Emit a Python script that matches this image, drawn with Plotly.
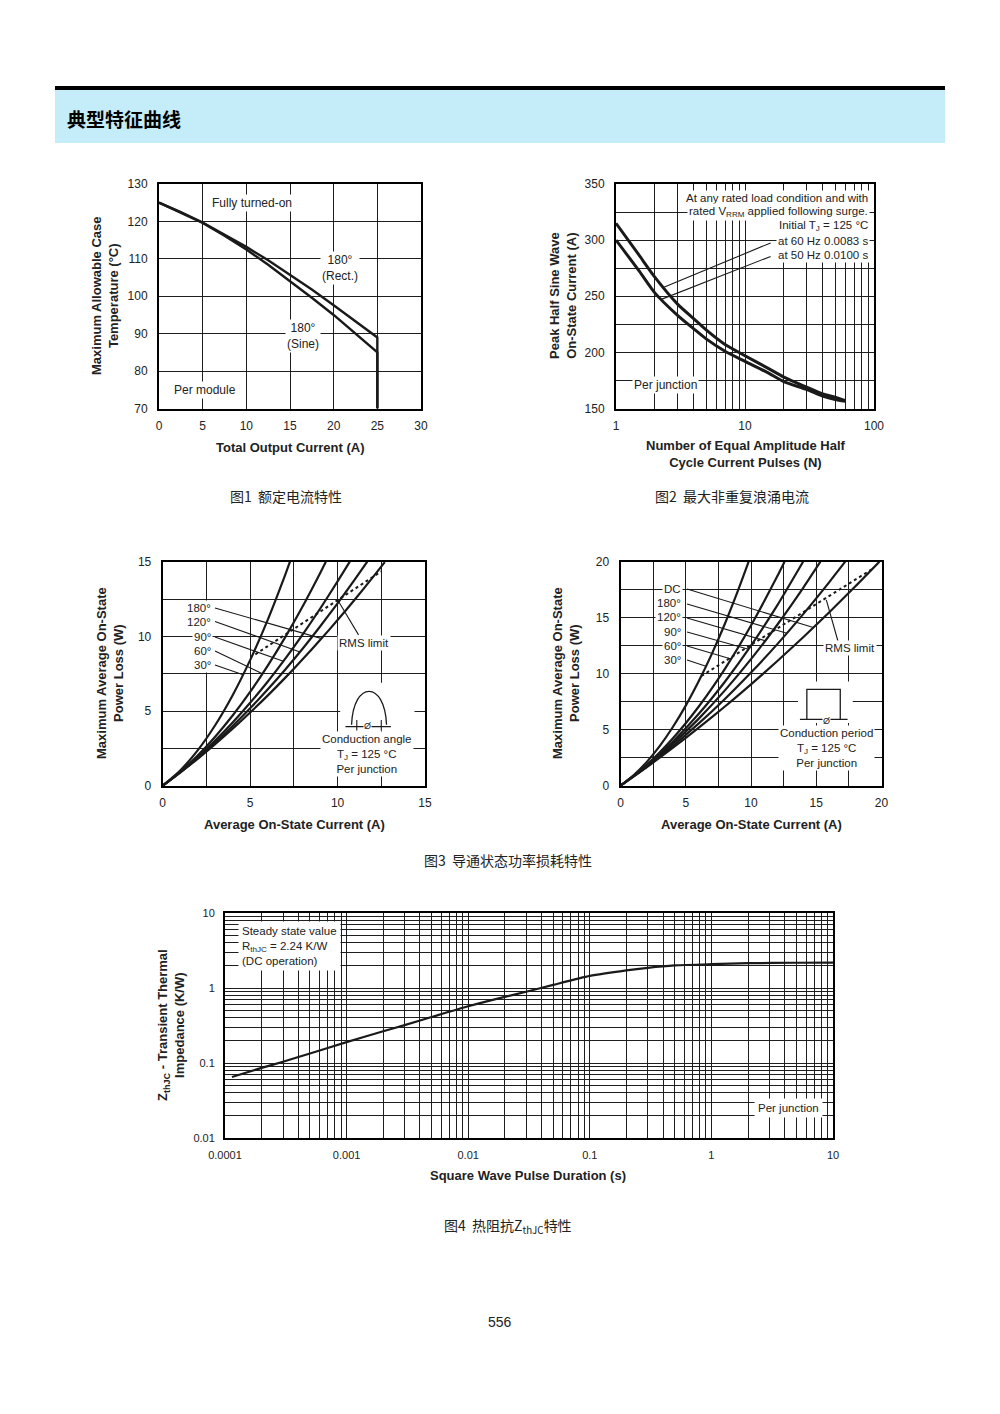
import plotly.graph_objects as go

PAGE_OFFSET = 8          # default body margin of the page in the browser
W, H = 1000 - PAGE_OFFSET, 1414 - PAGE_OFFSET
FONT = "Liberation Sans, Arial, sans-serif"
CJK = "Noto Sans CJK SC, sans-serif"
INK = "#1a1a1a"
GRID = "#1e1e1e"

# ---------------- data ----------------
# Fig 1 : max allowable case temperature vs total output current
fig1_current = [0, 2.5, 5, 7.5, 10, 12.5, 15, 17.5, 20, 22.5, 25, 25]
fig1_temp_rect = [125, 122.5, 119.7, 116.5, 113.2, 109.6, 105.8, 101.8, 97.6, 93.4, 89.0, 70]
fig1_temp_sine = [125, 122.4, 119.6, 116.2, 112.5, 108.4, 104.1, 99.6, 95.0, 90.1, 85.0, 70]
fig1_xticks = [0, 5, 10, 15, 20, 25, 30]
fig1_yticks = [70, 80, 90, 100, 110, 120, 130]

# Fig 2 : surge current vs number of pulses
fig2_pulses = [1, 1.5, 2, 3, 4, 5, 7, 10, 15, 20, 30, 40, 50, 60]
fig2_60hz = [315, 287, 267, 243, 230, 220, 207, 197, 186, 178, 169, 163, 160, 157]
fig2_50hz = [300, 273, 253, 233, 221, 212, 201, 192, 182, 174, 167, 161, 158, 156.5]
fig2_leader60_x = [2.35, 15.8]
fig2_leader60_y = [258, 297.5]
fig2_leader50_x = [2.22, 15.8]
fig2_leader50_y = [247, 285.5]
fig2_xgrid = [1, 2, 3, 4, 5, 6, 7, 8, 9, 10, 20, 30, 40, 50, 60, 70, 80, 90, 100]
fig2_xlabels = [1, 10, 100]
fig2_ygrid = [150, 175, 200, 225, 250, 275, 300, 325, 350]
fig2_ylabels = [150, 200, 250, 300, 350]

# Fig 3 : power loss, sine conduction angle
fig3_angles = ["180°", "120°", "90°", "60°", "30°"]
fig3_i_180 = [0, 1, 2, 3, 4, 5, 6, 7, 8, 9, 10, 11, 12, 12.7]
fig3_p_180 = [0, 0.88, 1.80, 2.78, 3.81, 4.90, 6.03, 7.22, 8.46, 9.75, 11.09, 12.48, 13.93, 14.97]
fig3_i_120 = [0, 1, 2, 3, 4, 5, 6, 7, 8, 9, 10, 11, 11.7]
fig3_p_120 = [0, 0.89, 1.85, 2.88, 3.99, 5.18, 6.44, 7.77, 9.17, 10.66, 12.21, 13.84, 15.0]
fig3_i_90 = [0, 1, 2, 3, 4, 5, 6, 7, 8, 9, 10, 10.7]
fig3_p_90 = [0, 0.90, 1.91, 3.02, 4.23, 5.55, 6.96, 8.49, 10.12, 11.85, 13.68, 15.0]
fig3_i_60 = [0, 1, 2, 3, 4, 5, 6, 7, 8, 9, 9.33]
fig3_p_60 = [0, 0.93, 2.02, 3.28, 4.70, 6.28, 8.02, 9.93, 12.00, 14.23, 15.0]
fig3_i_30 = [0, 1, 2, 3, 4, 5, 6, 7, 7.28]
fig3_p_30 = [0, 1.02, 2.37, 4.05, 6.06, 8.41, 11.09, 14.10, 15.0]
fig3_rms_i = [5.3, 7.0, 8.6, 10.1, 12.5]
fig3_rms_p = [8.8, 10.1, 11.35, 12.5, 14.35]
fig3_leader_x0 = [2.99, 2.99, 2.99, 2.99, 2.99]
fig3_leader_y0 = [11.9, 11.0, 9.96, 9.02, 8.08]
fig3_leader_x1 = [9.1, 7.85, 6.9, 5.7, 4.6]
fig3_leader_y1 = [9.85, 8.96, 8.33, 7.5, 7.43]
fig3_rms_leader_x = [11.2, 10.0]
fig3_rms_leader_y = [10.1, 12.45]
fig3_grid = [0, 2.5, 5, 7.5, 10, 12.5, 15]
fig3_labels = [0, 5, 10, 15]

# Fig 4 : power loss, rectangular conduction period
fig4_angles = ["DC", "180°", "120°", "90°", "60°", "30°"]
fig4_i_dc = [0, 2, 4, 6, 8, 10, 12, 14, 16, 18, 19.84]
fig4_p_dc = [0, 1.64, 3.37, 5.18, 7.07, 9.05, 11.11, 13.26, 15.49, 17.80, 20.0]
fig4_i_180 = [0, 2, 4, 6, 8, 10, 12, 14, 16, 17.22]
fig4_p_180 = [0, 1.68, 3.54, 5.56, 7.74, 10.1, 12.62, 15.32, 18.18, 20.0]
fig4_i_120 = [0, 2, 4, 6, 8, 10, 12, 14, 15.32]
fig4_p_120 = [0, 1.73, 3.73, 5.99, 8.51, 11.3, 14.35, 17.67, 20.0]
fig4_i_90 = [0, 2, 4, 6, 8, 10, 12, 13.99]
fig4_p_90 = [0, 1.78, 3.92, 6.42, 9.28, 12.5, 16.08, 20.0]
fig4_i_60 = [0, 2, 4, 6, 8, 10, 12, 12.57]
fig4_p_60 = [0, 1.85, 4.21, 7.07, 10.43, 14.3, 18.67, 20.0]
fig4_i_30 = [0, 1, 2, 3, 4, 5, 6, 7, 8, 9, 9.82]
fig4_p_30 = [0, 0.93, 2.10, 3.53, 5.22, 7.15, 9.34, 11.77, 14.46, 17.41, 20.0]
fig4_rms_i = [6.2, 8.6, 10.1, 11.6, 14.25, 19.3]
fig4_rms_p = [9.8, 11.56, 12.62, 13.75, 15.67, 19.35]
fig4_leader_x0 = [5.1, 5.1, 5.1, 5.1, 5.1, 5.1]
fig4_leader_y0 = [17.56, 16.22, 14.97, 13.72, 12.47, 11.22]
fig4_leader_x1 = [14.78, 12.75, 11.09, 9.81, 8.48, 6.55]
fig4_leader_y1 = [14.12, 13.61, 12.94, 12.19, 11.32, 10.66]
fig4_rms_leader_x = [16.66, 15.77]
fig4_rms_leader_y = [12.92, 16.6]
fig4_grid = [0, 2.5, 5, 7.5, 10, 12.5, 15, 17.5, 20]
fig4_labels = [0, 5, 10, 15, 20]

# Fig 5 : transient thermal impedance
fig5_time = [1.14e-4, 2e-4, 3e-4, 5e-4, 1e-3, 2e-3, 3e-3, 5e-3, 1e-2, 2e-2, 3e-2, 5e-2,
             0.1, 0.2, 0.3, 0.5, 1, 2, 5, 10]
fig5_zth = [0.065, 0.086, 0.104, 0.134, 0.19, 0.265, 0.32, 0.41, 0.57, 0.76, 0.89, 1.1,
            1.45, 1.72, 1.86, 2.0, 2.08, 2.14, 2.17, 2.18]
fig5_xdecades = [1e-4, 1e-3, 1e-2, 1e-1, 1, 10]
fig5_xlabels = ["0.0001", "0.001", "0.01", "0.1", "1", "10"]
fig5_ydecades = [0.01, 0.1, 1, 10]
fig5_ylabels = ["0.01", "0.1", "1", "10"]


# ---------------- helpers ----------------
def px(x):
    return (x - PAGE_OFFSET) / W


def py(y):
    return 1 - (y - PAGE_OFFSET) / H


def fmt(v):
    return f"{v:g}"


def log_grid(decades):
    vals = []
    for d in decades[:-1]:
        for m in range(1, 10):
            vals.append(round(d * m, 12))
    vals.append(decades[-1])
    return vals


fig = go.Figure()


def add_curve(x, y, n, width=2.6, dash=None, shape="spline", color=INK):
    fig.add_trace(go.Scatter(
        x=x, y=y, mode="lines",
        xaxis="x" if n == 1 else f"x{n}", yaxis="y" if n == 1 else f"y{n}",
        line=dict(color=color, width=width, dash=dash, shape=shape, smoothing=0.6),
        hoverinfo="skip", showlegend=False))


def axis(domain, rng, vals, text, anchor, log=False, size=12, standoff=5):
    d = dict(domain=domain, range=rng, tickmode="array", tickvals=vals, ticktext=text,
             showgrid=True, gridcolor=GRID, gridwidth=1.3, zeroline=False,
             showline=True, mirror=True, linecolor="black", linewidth=2,
             ticks="", ticklabelstandoff=standoff, anchor=anchor, fixedrange=True,
             automargin=False,
             tickfont=dict(family=FONT, size=size, color="#222"))
    if log:
        d["type"] = "log"
    return d


def note(text, x, y, size=12, xanchor="center", yanchor="middle", bg="white", align="center",
         family=FONT, angle=0, color="#222", pad=1):
    fig.add_annotation(text=text, x=px(x), y=py(y), xref="paper", yref="paper", showarrow=False,
                       xanchor=xanchor, yanchor=yanchor, align=align, textangle=angle,
                       bgcolor=bg, borderpad=pad,
                       font=dict(family=family, size=size, color=color))


# ---------------- Fig 1 ----------------
add_curve(fig1_current, fig1_temp_rect, 1, width=2.4, shape="linear")
add_curve(fig1_current, fig1_temp_sine, 1, width=2.4, shape="linear")

# ---------------- Fig 2 ----------------
add_curve(fig2_pulses, fig2_60hz, 2, width=3)
add_curve(fig2_pulses, fig2_50hz, 2, width=3)
add_curve(fig2_leader60_x, fig2_leader60_y, 2, width=1.1, shape="linear")
add_curve(fig2_leader50_x, fig2_leader50_y, 2, width=1.1, shape="linear")

# ---------------- Fig 3 ----------------
for xs, ys in [(fig3_i_180, fig3_p_180), (fig3_i_120, fig3_p_120), (fig3_i_90, fig3_p_90),
               (fig3_i_60, fig3_p_60), (fig3_i_30, fig3_p_30)]:
    add_curve(xs, ys, 3, width=2.2)
add_curve(fig3_rms_i, fig3_rms_p, 3, width=2, dash="dot", shape="linear")
for k in range(len(fig3_angles)):
    add_curve([fig3_leader_x0[k], fig3_leader_x1[k]], [fig3_leader_y0[k], fig3_leader_y1[k]],
              3, width=1.1, shape="linear")
add_curve(fig3_rms_leader_x, fig3_rms_leader_y, 3, width=1.1, shape="linear")

# ---------------- Fig 4 ----------------
for xs, ys in [(fig4_i_dc, fig4_p_dc), (fig4_i_180, fig4_p_180), (fig4_i_120, fig4_p_120),
               (fig4_i_90, fig4_p_90), (fig4_i_60, fig4_p_60), (fig4_i_30, fig4_p_30)]:
    add_curve(xs, ys, 4, width=2.2)
add_curve(fig4_rms_i, fig4_rms_p, 4, width=2, dash="dot", shape="linear")
for k in range(len(fig4_angles)):
    add_curve([fig4_leader_x0[k], fig4_leader_x1[k]], [fig4_leader_y0[k], fig4_leader_y1[k]],
              4, width=1.1, shape="linear")
add_curve(fig4_rms_leader_x, fig4_rms_leader_y, 4, width=1.1, shape="linear")

# ---------------- Fig 5 ----------------
add_curve(fig5_time, fig5_zth, 5, width=2.2)

# ---------------- axes ----------------
f2x = fig2_xgrid
f2xt = [fmt(v) if v in fig2_xlabels else "" for v in f2x]
f2yt = [fmt(v) if v in fig2_ylabels else "" for v in fig2_ygrid]
f3t = [fmt(v) if v in fig3_labels else "" for v in fig3_grid]
f4t = [fmt(v) if v in fig4_labels else "" for v in fig4_grid]
f5x = log_grid(fig5_xdecades)
f5xt = [fig5_xlabels[fig5_xdecades.index(v)] if v in fig5_xdecades else "" for v in f5x]
f5y = log_grid(fig5_ydecades)
f5yt = [fig5_ylabels[fig5_ydecades.index(v)] if v in fig5_ydecades else "" for v in f5y]

fig.update_layout(
    width=W, height=H, autosize=False,
    margin=dict(l=0, r=0, t=0, b=0, pad=0, autoexpand=False),
    paper_bgcolor="white", plot_bgcolor="white",
    showlegend=False, hovermode=False,
    xaxis=axis([px(159), px(421)], [0, 30], fig1_xticks, [fmt(v) for v in fig1_xticks], "y"),
    yaxis=axis([py(408.5), py(184)], [70, 130], fig1_yticks, [fmt(v) for v in fig1_yticks], "x", standoff=7),
    xaxis2=axis([px(616), px(874)], [0, 2], f2x, f2xt, "y2", log=True),
    yaxis2=axis([py(408.5), py(184)], [150, 350], fig2_ygrid, f2yt, "x2", standoff=7),
    xaxis3=axis([px(162.7), px(425)], [0, 15], fig3_grid, f3t, "y3"),
    yaxis3=axis([py(785.7), py(561.7)], [0, 15], fig3_grid, f3t, "x3", standoff=7),
    xaxis4=axis([px(620.5), px(881.5)], [0, 20], fig4_grid, f4t, "y4"),
    yaxis4=axis([py(785.7), py(561.7)], [0, 20], fig4_grid, f4t, "x4", standoff=7),
    xaxis5=axis([px(225), px(833)], [-4, 1], f5x, f5xt, "y5", log=True, size=11, standoff=6),
    yaxis5=axis([py(1138), py(913)], [-2, 1], f5y, f5yt, "x5", log=True, size=11, standoff=6),
)
for ax in ["xaxis5", "yaxis5"]:
    fig.layout[ax].gridwidth = 1.1

# ---------------- header ----------------
fig.add_shape(type="rect", xref="paper", yref="paper", x0=px(55), x1=px(945), y0=py(143), y1=py(90),
              fillcolor="#c4ecf9", line=dict(width=0), layer="below")
fig.add_shape(type="rect", xref="paper", yref="paper", x0=px(55), x1=px(945), y0=py(90), y1=py(86),
              fillcolor="black", line=dict(width=0), layer="below")
note("<b>典型特征曲线</b>", 65, 118, size=19, xanchor="left", bg="rgba(0,0,0,0)", family=CJK, color="black")

# ---------------- icons (fig 3 / fig 4) ----------------
fig.add_shape(type="rect", xref="x3", yref="y3", x0=10.15, x1=14.4, y0=3.7, y1=6.9,
              fillcolor="white", line=dict(width=0), layer="above")
fig.add_shape(type="path", xref="x3", yref="y3", path="M 10.8,4.08 C 10.9,7.07 12.7,7.07 12.8,4.08",
              line=dict(color=INK, width=1.3), layer="above")
fig.add_shape(type="line", xref="x3", yref="y3", x0=10.45, x1=13.05, y0=3.95, y1=3.95,
              line=dict(color=INK, width=1.2), layer="above")
for xv in [11.1, 12.5]:
    fig.add_shape(type="line", xref="x3", yref="y3", x0=xv, x1=xv, y0=3.7, y1=4.4,
                  line=dict(color=INK, width=1.1), layer="above")

fig.add_shape(type="rect", xref="x4", yref="y4", x0=13.6, x1=17.8, y0=5.6, y1=9.3,
              fillcolor="white", line=dict(width=0), layer="above")
fig.add_shape(type="path", xref="x4", yref="y4", path="M 14.28,5.93 L 14.28,8.6 L 16.84,8.6 L 16.84,5.93",
              line=dict(color=INK, width=1.3), layer="above")
fig.add_shape(type="line", xref="x4", yref="y4", x0=13.75, x1=17.4, y0=5.93, y1=5.93,
              line=dict(color=INK, width=1.2), layer="above")

# ---------------- text: fig 1 ----------------
note("Fully turned-on", 252, 203)
note("180°<br>(Rect.)", 340, 268)
note("180°<br>(Sine)", 303, 336)
note("Per module", 205, 390)
note("<b>Maximum Allowable Case<br>Temperature (°C)</b>", 105, 296, size=13, angle=-90, bg="rgba(0,0,0,0)")
note("<b>Total Output Current (A)</b>", 290, 447, size=13, bg="rgba(0,0,0,0)")
note("图1&nbsp;&nbsp;额定电流特性", 286, 496, size=14, family=CJK, bg="rgba(0,0,0,0)")

# ---------------- text: fig 2 ----------------
fig2_block = ["At any rated load condition and with",
              "rated V<sub>RRM</sub> applied following surge.",
              "Initial T<sub>J</sub> = 125 °C",
              "at 60 Hz 0.0083 s",
              "at 50 Hz 0.0100 s"]
for k, line in enumerate(fig2_block):
    note(line, 870, 198 + 14.2 * k, size=11.5, xanchor="right")
note("Per junction", 665, 385)
note("<b>Peak Half Sine Wave<br>On-State Current (A)</b>", 563, 296, size=13, angle=-90, bg="rgba(0,0,0,0)")
note("<b>Number of Equal Amplitude Half<br>Cycle Current Pulses (N)</b>", 746, 454, size=13, bg="rgba(0,0,0,0)")
note("图2&nbsp;&nbsp;最大非重复浪涌电流", 732, 496, size=14, family=CJK, bg="rgba(0,0,0,0)")

# ---------------- text: fig 3 ----------------
for k, lab in enumerate(fig3_angles):
    note(lab, 213, 608 + 14.3 * k, size=11.5, xanchor="right")
note("RMS limit", 364, 643, size=11.5)
note("Ø", 367, 726, size=9, pad=0)
note("Conduction angle<br>T<sub>J</sub> = 125 °C<br>Per junction", 367, 754, size=11.5)
note("<b>Maximum Average On-State<br>Power Loss (W)</b>", 110, 673, size=13, angle=-90, bg="rgba(0,0,0,0)")
note("<b>Average On-State Current (A)</b>", 294, 824, size=13, bg="rgba(0,0,0,0)")

# ---------------- text: fig 4 ----------------
for k, lab in enumerate(fig4_angles):
    note(lab, 683, 589 + 14.2 * k, size=11.5, xanchor="right")
note("RMS limit", 850, 648, size=11.5)
note("Ø", 826, 721, size=9, pad=0)
note("Conduction period<br>T<sub>J</sub> = 125 °C<br>Per junction", 826, 748, size=11.5)
note("<b>Maximum Average On-State<br>Power Loss (W)</b>", 566, 673, size=13, angle=-90, bg="rgba(0,0,0,0)")
note("<b>Average On-State Current (A)</b>", 751, 824, size=13, bg="rgba(0,0,0,0)")
note("图3&nbsp;&nbsp;导通状态功率损耗特性", 508, 860, size=14, family=CJK, bg="rgba(0,0,0,0)")

# ---------------- text: fig 5 ----------------
note("Steady state value<br>R<sub>thJC</sub> = 2.24 K/W<br>(DC operation)", 238, 921, size=11.5,
     xanchor="left", yanchor="top", align="left", pad=3)
note("Per junction", 788, 1108, size=11.5, pad=3)
note("<b>Z<sub>thJC</sub> - Transient Thermal<br>Impedance (K/W)</b>", 171, 1025, size=13, angle=-90,
     bg="rgba(0,0,0,0)")
note("<b>Square Wave Pulse Duration (s)</b>", 528, 1175, size=13, bg="rgba(0,0,0,0)")
note("图4&nbsp;&nbsp;热阻抗Z<sub>thJC</sub>特性", 508, 1226, size=14, family=CJK, bg="rgba(0,0,0,0)")

note("556", 500, 1322, size=14, bg="rgba(0,0,0,0)")

fig.write_html("out.html")
